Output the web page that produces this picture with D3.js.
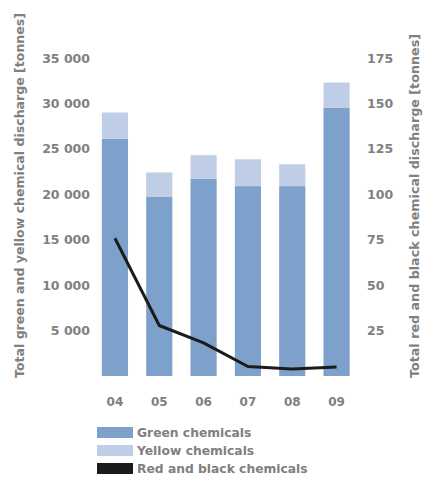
<!DOCTYPE html>
<html>
<head>
<meta charset="utf-8">
<script src="https://cdn.jsdelivr.net/npm/d3@7"></script>
<style>
  html, body { margin: 0; padding: 0; background: #fff; }
  svg { display: block; }
  text { font-family: "DejaVu Sans", sans-serif; font-weight: bold; fill: #808080; }
</style>
</head>
<body>
<svg id="chart" width="423" height="477"></svg>
<script>
// Chemical discharge by year
const years = ["04", "05", "06", "07", "08", "09"];
const greenChem = [26100, 19700, 21700, 20900, 20900, 29500];   // tonnes
const yellowChem = [2900, 2700, 2600, 2950, 2400, 2800];        // tonnes
const redBlackChem = [75.8, 27.8, 18.2, 5.2, 3.9, 5.0];          // tonnes
const leftTicks = [5000, 10000, 15000, 20000, 25000, 30000, 35000];
const rightTicks = [25, 50, 75, 100, 125, 150, 175];
const legendLabels = ["Green chemicals", "Yellow chemicals", "Red and black chemicals"];

const colGreen = "#7ea1cc";
const colYellow = "#bfcee6";
const colLine = "#1b1b1b";

const svg = d3.select("#chart");

const x = d3.scaleBand()
  .domain(years)
  .range([93, 358.5])
  .paddingInner(0.41)
  .paddingOuter(0.2);

const yLeft = d3.scaleLinear().domain([0, 35000]).range([376, 58]);
const yRight = d3.scaleLinear().domain([0, 175]).range([376, 58]);

const fmt = v => d3.format(",")(v).replace(/,/g, " ");

// Stacked bars
const rows = years.map((yr, i) => ({ year: yr, green: greenChem[i], yellow: yellowChem[i] }));
const stacked = d3.stack().keys(["green", "yellow"])(rows);
const colours = { green: colGreen, yellow: colYellow };

svg.append("g").selectAll("g")
  .data(stacked)
  .join("g")
  .attr("fill", d => colours[d.key])
  .selectAll("rect")
  .data(d => d)
  .join("rect")
  .attr("x", d => x(d.data.year))
  .attr("width", x.bandwidth())
  .attr("y", d => yLeft(d[1]))
  .attr("height", d => yLeft(d[0]) - yLeft(d[1]));

// Red and black line on the right scale
const line = d3.line()
  .x((d, i) => x(years[i]) + x.bandwidth() / 2)
  .y(d => yRight(d));

svg.append("path")
  .datum(redBlackChem)
  .attr("d", line)
  .attr("fill", "none")
  .attr("stroke", colLine)
  .attr("stroke-width", 3)
  .attr("stroke-linejoin", "round");

// Left axis
const leftAxis = d3.axisLeft(yLeft).tickValues(leftTicks).tickFormat(fmt).tickSize(0).tickPadding(0);
const gl = svg.append("g").attr("transform", "translate(90,0)").call(leftAxis);
gl.select(".domain").remove();
gl.selectAll("text").attr("font-size", 12.5).attr("font-family", null).attr("fill", null);

// Right axis
const rightAxis = d3.axisRight(yRight).tickValues(rightTicks).tickSize(0).tickPadding(0);
const gr = svg.append("g").attr("transform", "translate(367,0)").call(rightAxis);
gr.select(".domain").remove();
gr.selectAll("text").attr("font-size", 12.5).attr("font-family", null).attr("fill", null);

// Category axis
const bottomAxis = d3.axisBottom(x).tickSize(0).tickPadding(0);
const gb = svg.append("g").attr("transform", "translate(0,397)").call(bottomAxis);
gb.select(".domain").remove();
gb.selectAll("text").attr("font-size", 12).attr("font-family", null).attr("fill", null);

// Axis titles
svg.append("text")
  .attr("transform", "translate(24,378) rotate(-90)")
  .attr("font-size", 12)
  .attr("textLength", 365)
  .attr("lengthAdjust", "spacingAndGlyphs")
  .text("Total green and yellow chemical discharge [tonnes]");

svg.append("text")
  .attr("transform", "translate(419,378) rotate(-90)")
  .attr("font-size", 12)
  .attr("textLength", 344)
  .attr("lengthAdjust", "spacingAndGlyphs")
  .text("Total red and black chemical discharge [tonnes]");

// Legend
const legendColours = [colGreen, colYellow, colLine];
const legendY = d3.scalePoint().domain(legendLabels).range([427, 463]);
const lg = svg.append("g").selectAll("g")
  .data(legendLabels)
  .join("g")
  .attr("transform", d => `translate(97,${legendY(d)})`);
lg.append("rect")
  .attr("width", 36).attr("height", 11)
  .attr("fill", (d, i) => legendColours[i]);
lg.append("text")
  .attr("x", 40).attr("y", 9.5)
  .attr("font-size", 12.3)
  .text(d => d);
</script>
</body>
</html>
